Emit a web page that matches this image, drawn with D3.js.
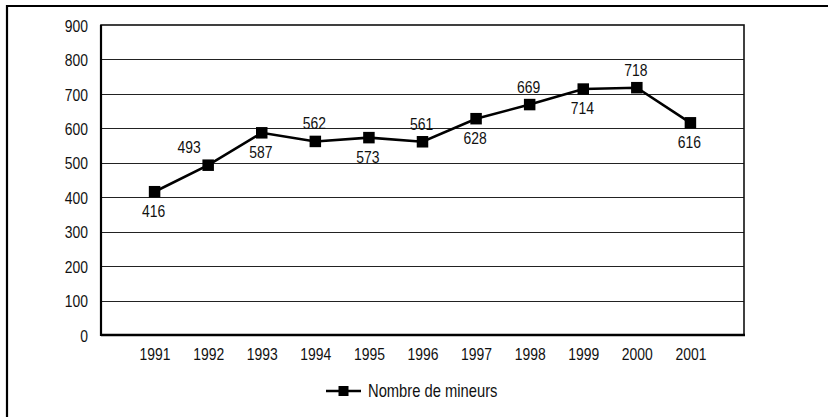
<!DOCTYPE html>
<html>
<head>
<meta charset="utf-8">
<script src="https://cdn.jsdelivr.net/npm/d3@7"></script>
<style>
  html, body { margin: 0; padding: 0; background: #fff; }
  svg { display: block; }
  text { font-family: "Liberation Sans", Arial, sans-serif; fill: #111; }
</style>
</head>
<body>
<svg id="chart" width="828" height="417"></svg>
<script>
const years = ["1991","1992","1993","1994","1995","1996","1997","1998","1999","2000","2001"];
const values = [416, 493, 587, 562, 573, 561, 628, 669, 714, 718, 616];
const labelPos = ["below","above","below","above","below","above","below","above","below","above","below"];
const yTicks = [0,100,200,300,400,500,600,700,800,900];
const seriesName = "Nombre de mineurs";

const FONT = '"Liberation Sans", Arial, sans-serif';
const SX = 0.82; // horizontal condensing to mimic a narrow face
const svg = d3.select("#chart");
const W = 828, H = 417;
const m = {left: 101, top: 25, right: 744, bottom: 335};

// outer frame (left & top only visible)
svg.append("path")
  .attr("d", `M7,${H} L7,6 L${W},6`)
  .attr("fill", "none").attr("stroke", "#000").attr("stroke-width", 2.2);

const x = d3.scalePoint().domain(years).range([m.left, m.right]).padding(1);
const y = d3.scaleLinear().domain([0, 900]).range([m.bottom, m.top]);

// gridlines
svg.append("g").selectAll("line").data(yTicks.slice(1, -1)).join("line")
  .attr("x1", m.left).attr("x2", m.right)
  .attr("y1", d => Math.round(y(d)) + 0.5).attr("y2", d => Math.round(y(d)) + 0.5)
  .attr("stroke", "#222").attr("stroke-width", 1.2);

// plot frame
svg.append("rect")
  .attr("x", m.left).attr("y", m.top)
  .attr("width", m.right - m.left).attr("height", m.bottom - m.top)
  .attr("fill", "none").attr("stroke", "#111").attr("stroke-width", 1.6);
svg.append("line").attr("x1", m.left).attr("x2", m.left).attr("y1", m.top).attr("y2", m.bottom + 1)
  .attr("stroke", "#000").attr("stroke-width", 2.2);
svg.append("line").attr("x1", m.left).attr("x2", m.right + 1).attr("y1", m.bottom).attr("y2", m.bottom)
  .attr("stroke", "#000").attr("stroke-width", 2.4);

// y axis labels
const yAxis = d3.axisLeft(y).tickValues(yTicks).tickSize(0).tickPadding(13);
const gy = svg.append("g").attr("transform", `translate(${m.left},0)`).call(yAxis);
gy.select(".domain").remove();
gy.selectAll("text").style("font-size", "17px").style("font-family", FONT).attr("fill", "#111")
  .attr("dy", "0.36em").attr("x", -13 / SX).attr("transform", `scale(${SX},1)`);

// x axis labels
const xAxis = d3.axisBottom(x).tickSize(0).tickPadding(13);
const gx = svg.append("g").attr("transform", `translate(0,${m.bottom})`).call(xAxis);
gx.select(".domain").remove();
gx.selectAll("text").style("font-size", "17px").style("font-family", FONT).attr("fill", "#111")
  .attr("transform", `scale(${SX},1)`);

// line
const data = years.map((yr, i) => ({yr, v: values[i], pos: labelPos[i]}));
svg.append("path").datum(data)
  .attr("d", d3.line().x(d => x(d.yr)).y(d => y(d.v)))
  .attr("fill", "none").attr("stroke", "#000").attr("stroke-width", 2.6);

const ms = 11.5;
svg.append("g").selectAll("rect").data(data).join("rect")
  .attr("x", d => x(d.yr) - ms / 2).attr("y", d => y(d.v) - ms / 2)
  .attr("width", ms).attr("height", ms).attr("fill", "#000");

// data labels
svg.append("g").selectAll("text").data(data).join("text")
  .attr("transform", (d, i) => {
    const tx = x(d.yr) + (i === 1 ? -19 : -1);
    const ty = d.pos === "above" ? y(d.v) - 12 : y(d.v) + 25;
    return `translate(${tx},${ty}) scale(${SX},1)`;
  })
  .attr("text-anchor", "middle")
  .style("font-size", "17px")
  .text(d => d.v);

// legend
const lx = 326, ly = 391;
svg.append("line").attr("x1", lx).attr("x2", lx + 35).attr("y1", ly).attr("y2", ly)
  .attr("stroke", "#000").attr("stroke-width", 2.6);
svg.append("rect").attr("x", lx + 17.5 - 5).attr("y", ly - 5).attr("width", 10).attr("height", 10).attr("fill", "#000");
svg.append("text").attr("transform", `translate(${lx + 42},${ly + 6}) scale(${SX},1)`)
  .style("font-size", "18px").text(seriesName);
</script>
</body>
</html>
